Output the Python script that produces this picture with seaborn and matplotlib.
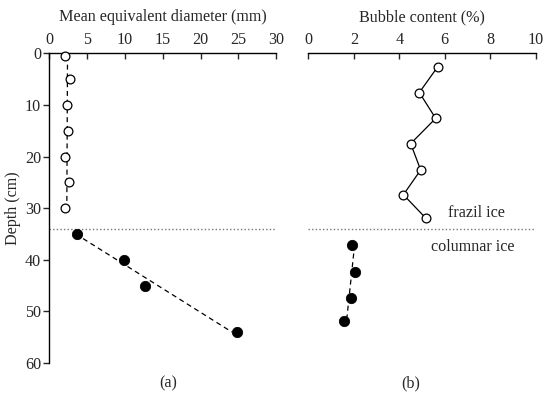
import numpy as np
import pandas as pd
import matplotlib
matplotlib.use("Agg")
import matplotlib.pyplot as plt
import seaborn as sns

# ---- data ----
frazil_depth_a = [0.5, 5.0, 10.0, 15.0, 20.0, 25.0, 30.0]
frazil_diam = [2.1, 2.7, 2.4, 2.5, 2.1, 2.65, 2.1]
columnar_depth_a = [35.0, 40.0, 45.0, 54.0]
columnar_diam = [3.6, 9.9, 12.6, 24.8]

frazil_depth_b = [2.6, 7.6, 12.6, 17.5, 22.6, 27.4, 32.0]
frazil_bubble = [5.69, 4.88, 5.6, 4.5, 4.94, 4.18, 5.18]
columnar_depth_b = [37.1, 42.4, 47.5, 51.9]
columnar_bubble = [1.91, 2.07, 1.86, 1.57]

boundary_depth = 34.0
xticks_a = [0, 5, 10, 15, 20, 25, 30]
xticks_b = [0, 2, 4, 6, 8, 10]
yticks = [0, 10, 20, 30, 40, 50, 60]

FS = 11.6

sns.set_style("white")
plt.rcParams['font.family'] = ['Liberation Serif', 'DejaVu Serif']
plt.rcParams['font.size'] = FS

fig = plt.figure(figsize=(5.5, 3.98), dpi=100)
ax1 = fig.add_axes([0.0896, 0.088, 0.4127, 0.778])
ax2 = fig.add_axes([0.5606, 0.088, 0.4135, 0.778])

def fit_line(depth, x):
    d = np.asarray(depth)
    coef = np.polyfit(d, np.asarray(x), 1)
    dd = np.array([d.min(), d.max()])
    return np.polyval(coef, dd), dd

# ---- panel (a) ----
fx, fd = fit_line(frazil_depth_a, frazil_diam)
sns.lineplot(x=fx, y=fd, ax=ax1, color='black', lw=0.9, linestyle=(0, (4, 3)),
             sort=False, estimator=None)
cx, cd = fit_line(columnar_depth_a, columnar_diam)
sns.lineplot(x=cx, y=cd, ax=ax1, color='black', lw=0.9, linestyle=(0, (4, 3)),
             sort=False, estimator=None)
sns.scatterplot(x=frazil_diam, y=frazil_depth_a, ax=ax1, marker='o', s=40,
                facecolor='white', edgecolor='black', linewidth=0.9, zorder=3, clip_on=False)
sns.scatterplot(x=columnar_diam, y=columnar_depth_a, ax=ax1, marker='o', s=55,
                color='black', edgecolor='black', zorder=3)
ax1.axhline(boundary_depth, color='#777777', lw=1.0, linestyle=(0, (1, 1.6)))

# ---- panel (b) ----
sns.lineplot(x=frazil_bubble, y=frazil_depth_b, ax=ax2, color='black', lw=0.9,
             sort=False, estimator=None)
sns.scatterplot(x=frazil_bubble, y=frazil_depth_b, ax=ax2, marker='o', s=40,
                facecolor='white', edgecolor='black', linewidth=0.9, zorder=3)
bx, bd = fit_line(columnar_depth_b, columnar_bubble)
sns.lineplot(x=bx, y=bd, ax=ax2, color='black', lw=0.9, linestyle=(0, (4, 3)),
             sort=False, estimator=None)
sns.scatterplot(x=columnar_bubble, y=columnar_depth_b, ax=ax2, marker='o', s=55,
                color='black', edgecolor='black', zorder=3)
ax2.axhline(boundary_depth, color='#777777', lw=1.0, linestyle=(0, (1, 1.6)))
ax2.text(7.37, 30.9, 'frazil ice', ha='center', va='center', fontsize=FS)
ax2.text(7.24, 37.5, 'columnar ice', ha='center', va='center', fontsize=FS)

# ---- axes styling ----
for ax, xt, lab in [(ax1, xticks_a, 'Mean equivalent diameter (mm)'),
                    (ax2, xticks_b, 'Bubble content (%)')]:
    ax.set_xlim(xt[0], xt[-1])
    ax.set_ylim(60, 0)
    ax.set_xticks(xt)
    ax.xaxis.tick_top()
    ax.xaxis.set_label_position('top')
    ax.set_xlabel(lab, fontsize=FS, labelpad=8)
    ax.tick_params(axis='x', direction='in', length=4, width=1, pad=3.5, labelsize=FS,
                   top=True, bottom=False)
    ax.spines['right'].set_visible(False)
    ax.spines['bottom'].set_visible(False)
    ax.spines['top'].set_linewidth(1.0)
    ax.spines['top'].set_color('black')
    ax.patch.set_alpha(0)

ax1.set_yticks(yticks)
ax1.set_ylabel('Depth (cm)', fontsize=FS, labelpad=3)
ax1.tick_params(axis='y', direction='out', length=4, width=1, pad=2, labelsize=FS, left=True)
ax1.spines['left'].set_linewidth(1.0)
ax1.spines['left'].set_color('black')

ax2.spines['left'].set_visible(False)
ax2.set_yticks([])
ax2.set_ylabel('')

fig.text(0.305, 0.036, '(a)', ha='center', va='center', fontsize=FS)
fig.text(0.747, 0.036, '(b)', ha='center', va='center', fontsize=FS)

fig.savefig('out.png', dpi=100)
